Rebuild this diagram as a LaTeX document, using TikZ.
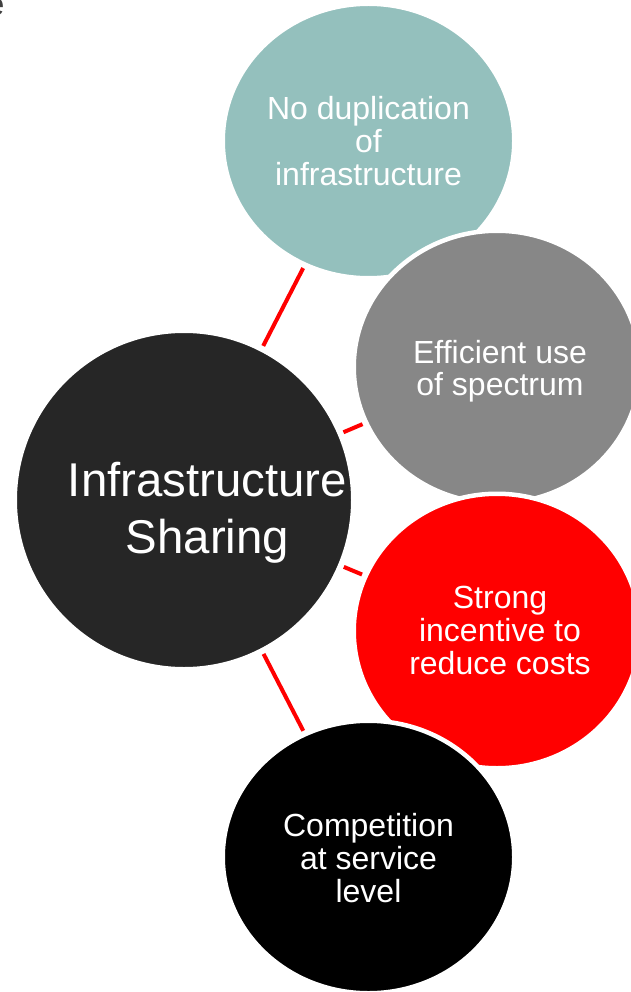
\documentclass[tikz,border=0pt]{standalone}
\usepackage{fontspec}
\setmainfont{Liberation Sans}
\usetikzlibrary{shapes.geometric,backgrounds}
\definecolor{tealgray}{HTML}{94C0BD}
\definecolor{midgray}{HTML}{878787}
\definecolor{hubgray}{HTML}{262626}
\definecolor{pureRed}{HTML}{FF0000}
\definecolor{textdark}{HTML}{404040}

\begin{document}
\begin{tikzpicture}[x=1pt,y=-1pt,
  bubble/.style={ellipse, draw=white, line width=4.5pt, inner sep=0pt, outer sep=0pt},
  link/.style={draw=pureRed, line width=4pt, shorten <=4pt, shorten >=4pt},
  lbl/.style={text=white, align=center, inner sep=0pt, font=\fontsize{32}{33}\selectfont},
  hublbl/.style={text=white, align=center, inner sep=0pt, font=\fontsize{47.4}{57}\selectfont},
]
\clip (0,0) rectangle (631,992);

% clipped tail of a heading above the picture
\node[anchor=base east, inner sep=0pt, text=textdark,
      font=\fontsize{32}{33}\selectfont] (head) at (4.5,16) {e};

% central hub
\node[bubble, fill=hubgray, minimum width=338.5pt, minimum height=338.5pt] (hub) at (184,500) {};
\node[hublbl] (hubtxt) at (207.5,512.5) {Infrastructure\\Sharing};

% surrounding bubbles, each one laid over the previous
\node[bubble, fill=tealgray, minimum width=291.5pt, minimum height=274.5pt] (dup) at (368.5,141) {};
\node[lbl] (duptxt) at (368.5,141) {No duplication\\of\\infrastructure};

\node[bubble, fill=midgray, minimum width=286.5pt, minimum height=272.5pt] (spec) at (497,367) {};
\node[lbl, font=\fontsize{32}{32.5}\selectfont] (spectxt) at (500,371) {Efficient use\\of spectrum};

\node[bubble, fill=pureRed, minimum width=286.5pt, minimum height=274.5pt] (cost) at (497,631) {};
\node[lbl] (costtxt) at (500,630.5) {Strong\\incentive to\\reduce costs};

\node[bubble, fill=black, minimum width=291.5pt, minimum height=272.5pt] (comp) at (368.5,857) {};
\node[lbl] (comptxt) at (368.5,858) {Competition\\at service\\level};

% spokes from the hub, kept underneath the bubbles
\begin{pgfonlayer}{background}
  \draw[link] (hub) -- (dup);
  \draw[link] (hub) -- (spec);
  \draw[link] (hub) -- (cost);
  \draw[link] (hub) -- (comp);
\end{pgfonlayer}
\end{tikzpicture}
\end{document}
